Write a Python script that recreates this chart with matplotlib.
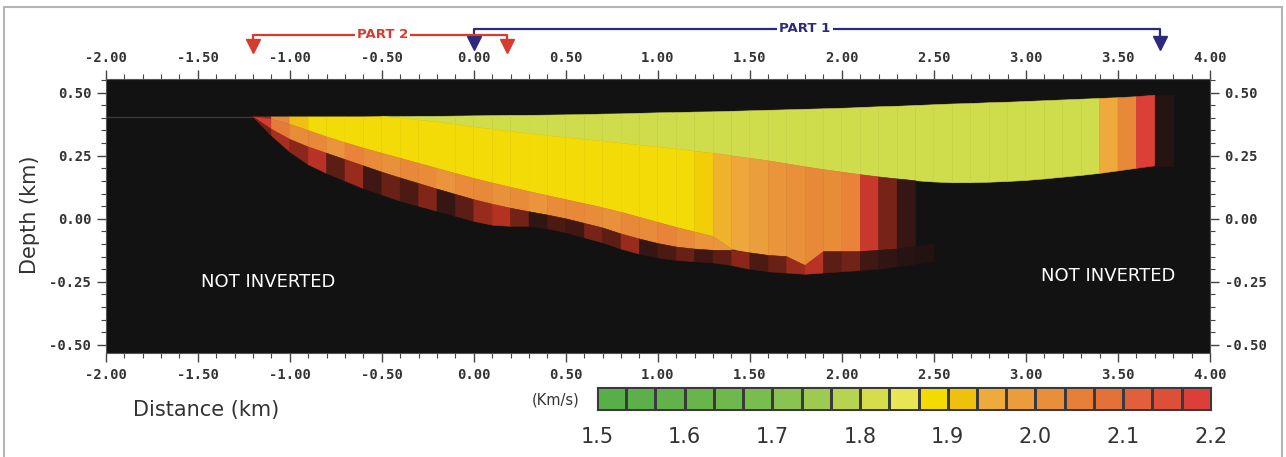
import numpy as np
import matplotlib
matplotlib.use("Agg")
import matplotlib.pyplot as plt
from matplotlib.collections import PolyCollection
from matplotlib.colors import LinearSegmentedColormap, ListedColormap, Normalize
from matplotlib.ticker import MultipleLocator
from matplotlib.patches import Rectangle

plt.rcParams['axes.unicode_minus'] = False

# ---- data read off the section ----
# column edges along the profile (km)
x_edges = [-1.2, -1.1, -1.0, -0.9, -0.8, -0.7, -0.6, -0.5, -0.4, -0.3, -0.2, -0.1,
           0.0, 0.1, 0.2, 0.3, 0.4, 0.5, 0.6, 0.7, 0.8, 0.9, 1.0, 1.1, 1.2, 1.3,
           1.4, 1.5, 1.6, 1.7, 1.8, 1.9, 2.0, 2.1, 2.2, 2.3, 2.4, 2.5, 2.6, 2.7,
           2.8, 2.9, 3.0, 3.1, 3.2, 3.3, 3.4, 3.5, 3.6, 3.7, 3.8]

# ground surface (km)
top = [0.404, 0.404, 0.404, 0.404, 0.404, 0.404, 0.404, 0.405, 0.405, 0.406, 0.406, 0.407,
       0.408, 0.409, 0.410, 0.410, 0.411, 0.412, 0.413, 0.415, 0.416, 0.418, 0.420, 0.421,
       0.423, 0.424, 0.426, 0.428, 0.430, 0.432, 0.434, 0.436, 0.438, 0.441, 0.444, 0.446,
       0.449, 0.452, 0.455, 0.457, 0.460, 0.462, 0.465, 0.468, 0.471, 0.474, 0.477, 0.480,
       0.484, 0.490, 0.490]

# base of the upper (green) layer
b1 = [0.404, 0.404, 0.404, 0.404, 0.404, 0.404, 0.404, 0.405, 0.400, 0.392, 0.384, 0.374,
      0.364, 0.355, 0.346, 0.338, 0.330, 0.322, 0.315, 0.308, 0.300, 0.292, 0.285, 0.277,
      0.268, 0.260, 0.250, 0.240, 0.230, 0.218, 0.206, 0.195, 0.185, 0.175, 0.166, 0.158,
      0.151, 0.146, 0.143, 0.143, 0.145, 0.148, 0.152, 0.158, 0.165, 0.172, 0.180, 0.190,
      0.200, 0.210, 0.210]

# base of the middle (yellow / orange) layer
b2 = [0.404, 0.395, 0.375, 0.350, 0.325, 0.302, 0.280, 0.260, 0.240, 0.220, 0.200, 0.180,
      0.160, 0.142, 0.125, 0.108, 0.092, 0.076, 0.060, 0.044, 0.026, 0.006, -0.014, -0.034,
      -0.052, -0.070, -0.120, -0.135, -0.145, -0.150, -0.185, -0.130, -0.130, -0.130, -0.125, -0.120,
      -0.110, -0.100, 0.143, 0.143, 0.145, 0.148, 0.152, 0.158, 0.165, 0.172, 0.180, 0.190,
      0.200, 0.210, 0.210]

# base of the orange band
b3 = [0.404, 0.355, 0.315, 0.285, 0.260, 0.235, 0.210, 0.185, 0.162, 0.140, 0.118, 0.097,
      0.076, 0.058, 0.042, 0.028, 0.015, 0.000, -0.018, -0.036, -0.060, -0.080, -0.098, -0.112,
      -0.120, -0.125, -0.125, -0.135, -0.145, -0.150, -0.185, -0.130, -0.130, -0.130, -0.125, -0.120,
      -0.110, -0.100, 0.143, 0.143, 0.145, 0.148, 0.152, 0.158, 0.165, 0.172, 0.180, 0.190,
      0.200, 0.210, 0.210]

# base of the dark (poorly resolved) band
b4 = [0.404, 0.330, 0.265, 0.215, 0.180, 0.150, 0.120, 0.095, 0.070, 0.050, 0.030, 0.010,
      -0.010, -0.025, -0.030, -0.030, -0.040, -0.055, -0.075, -0.095, -0.120, -0.140, -0.155, -0.165,
      -0.170, -0.175, -0.185, -0.200, -0.210, -0.215, -0.220, -0.215, -0.210, -0.205, -0.200, -0.190,
      -0.180, -0.170, 0.143, 0.143, 0.145, 0.148, 0.152, 0.158, 0.165, 0.172, 0.180, 0.190,
      0.200, 0.210, 0.210]

nan = np.nan
# velocities (km/s) for each column, per layer
v_green = [nan, nan, nan, nan, nan, nan, nan, 1.81, 1.81, 1.81, 1.81, 1.81,
           1.81, 1.81, 1.81, 1.81, 1.81, 1.81, 1.81, 1.81, 1.81, 1.81, 1.81, 1.81,
           1.81, 1.81, 1.81, 1.81, 1.81, 1.81, 1.81, 1.81, 1.81, 1.81, 1.81, 1.81,
           1.81, 1.81, 1.81, 1.81, 1.81, 1.81, 1.81, 1.81, 1.81, 1.81, 1.95, 2.03,
           2.18, 2.47]
v_mid = [2.30, 2.03, 1.92, 1.88, 1.88, 1.88, 1.88, 1.88, 1.88, 1.88, 1.88, 1.88,
         1.88, 1.88, 1.88, 1.88, 1.88, 1.88, 1.88, 1.88, 1.88, 1.88, 1.88, 1.88,
         1.90, 1.94, 1.96, 1.98, 2.00, 2.01, 2.03, 2.02, 2.04, 2.22, 2.34, 2.44,
         nan, nan, nan, nan, nan, nan, nan, nan, nan, nan, nan, nan,
         nan, nan]
v_orange = [2.20, 2.06, 2.02, 2.03, 2.00, 2.04, 2.02, 2.01, 2.03, 2.02, 2.00, 2.02,
            2.03, 2.01, 2.02, 2.00, 2.02, 2.03, 2.02, 2.01, 2.03, 2.02, 2.04, 2.02,
            2.00, 2.00, nan, nan, nan, nan, nan, nan, nan, nan, nan, nan,
            nan, nan, nan, nan, nan, nan, nan, nan, nan, nan, nan, nan,
            nan, nan]
v_dark = [2.35, 2.28, 2.32, 2.25, 2.38, 2.30, 2.42, 2.36, 2.40, 2.33, 2.44, 2.38,
          2.30, 2.26, 2.35, 2.45, 2.40, 2.42, 2.34, 2.38, 2.30, 2.44, 2.40, 2.36,
          2.42, 2.38, 2.32, 2.40, 2.36, 2.30, 2.25, 2.38, 2.35, 2.42, 2.45, 2.47,
          2.48, nan, nan, nan, nan, nan, nan, nan, nan, nan, nan, nan,
          nan, nan]

# colour scale boxes (1.5 - 2.2 km/s)
cb_colors = ['#58ae48', '#5cb049', '#61b24a', '#67b54b', '#6fb84d', '#7abd4f', '#8ac351',
             '#9fca52', '#b8d34f', '#d5de4a', '#e8e655', '#f3da00', '#efc10d', '#eeab3c',
             '#eb9c3c', '#e98e3a', '#e77f38', '#e4703a', '#e1603b', '#de4e39', '#db3f37']
cb_ticks = [1.5, 1.6, 1.7, 1.8, 1.9, 2.0, 2.1, 2.2]

x_ticks = [-2, -1.5, -1, -0.5, 0, 0.5, 1, 1.5, 2, 2.5, 3, 3.5, 4]
y_ticks = [-0.5, -0.25, 0, 0.25, 0.5]

# ---- colour map: legend colours, then fading to black above 2.2 ----
vmin, vmax = 1.5, 2.5
nodes = [(0.0, cb_colors[0])]
for i, c in enumerate(cb_colors):
    nodes.append(((1.5 + (i + 0.5) * 0.7 / len(cb_colors) - vmin) / (vmax - vmin), c))
nodes += [(0.77, '#b03020'), (0.84, '#7a2418'), (0.91, '#461812'), (1.0, '#181212')]
cmap = LinearSegmentedColormap.from_list('vel', nodes)
norm = Normalize(vmin, vmax)

fig = plt.figure(figsize=(12.86, 4.57), dpi=100)
fig.patch.set_facecolor('white')
fig.patches.append(Rectangle((4 / 1286, -0.1), 1278 / 1286, 1.1 - 7 / 457, transform=fig.transFigure,
                             fill=False, edgecolor='#b4b4b4', linewidth=1.5))

ax = fig.add_axes([0.0822, 0.2276, 0.8587, 0.5989])
ax.set_facecolor('#121212')
ax.set_xlim(-2, 4)
ax.set_ylim(-0.532, 0.553)

# faint ground line in the uninverted part
ax.plot([-2, x_edges[0]], [top[0], top[0]], color='#3a3a3a', lw=1)

verts, vals = [], []
for upper, lower, vel in [(top, b1, v_green), (b1, b2, v_mid), (b2, b3, v_orange), (b3, b4, v_dark)]:
    for i in range(len(x_edges) - 1):
        if np.isnan(vel[i]):
            continue
        verts.append([(x_edges[i], upper[i]), (x_edges[i + 1], upper[i + 1]),
                      (x_edges[i + 1], lower[i + 1]), (x_edges[i], lower[i])])
        vals.append(vel[i])
pc = PolyCollection(verts, array=np.array(vals), cmap=cmap, norm=norm,
                    edgecolors='face', linewidths=0.4)
ax.add_collection(pc)

tick_font = dict(family='DejaVu Sans Mono', weight='bold', size=10)
ax.xaxis.set_minor_locator(MultipleLocator(0.1))
ax.yaxis.set_minor_locator(MultipleLocator(0.05))
ax.set_xticks(x_ticks)
ax.set_xticklabels(['%.2f' % t for t in x_ticks], **tick_font)
ax.set_yticks(y_ticks)
ax.set_yticklabels(['%.2f' % t for t in y_ticks], **tick_font)
ax.tick_params(which='both', direction='out', top=True, right=True, labeltop=True,
               labelright=True, colors='#444444', labelcolor='#333333')
ax.tick_params(which='major', length=6.5, width=1, pad=4)
ax.tick_params(which='minor', length=3.5, width=0.8)
for lab in ax.get_xticklabels() + ax.get_yticklabels():
    lab.set_fontproperties(tick_font)
for s in ax.spines.values():
    s.set_color('#555555')
    s.set_linewidth(0.8)

ax.text(-1.117, -0.251, 'NOT INVERTED', color='white', fontsize=13, ha='center', va='center')
ax.text(3.446, -0.227, 'NOT INVERTED', color='white', fontsize=13, ha='center', va='center')

fig.text(0.0233, 0.53, 'Depth (km)', rotation=90, fontsize=15, color='#333333',
         ha='center', va='center')
fig.text(0.1034, 0.103, 'Distance (km)', fontsize=15, color='#333333', ha='left', va='center')

# profile parts above the section
tr = ax.get_xaxis_transform()
navy, red = '#2d2a7e', '#d83a2e'
ax.plot([0, 0, 3.73, 3.73], [1.133, 1.184, 1.184, 1.133], color=navy, lw=1.6,
        transform=tr, clip_on=False)
ax.plot([0, 3.73], [1.133, 1.133], ls='none', marker='v', ms=10, color=navy,
        transform=tr, clip_on=False)
ax.text(1.80, 1.184, 'PART 1', color=navy, fontsize=9.5, weight='bold', ha='center',
        va='center', transform=tr, bbox=dict(fc='white', ec='none', pad=1.5))
ax.plot([-1.2, -1.2, 0.18, 0.18], [1.122, 1.162, 1.162, 1.122], color=red, lw=1.6,
        transform=tr, clip_on=False)
ax.plot([-1.2, 0.18], [1.122, 1.122], ls='none', marker='v', ms=10, color=red,
        transform=tr, clip_on=False)
ax.text(-0.495, 1.162, 'PART 2', color=red, fontsize=9.5, weight='bold', ha='center',
        va='center', transform=tr, bbox=dict(fc='white', ec='none', pad=1.5))

# colour scale
cax = fig.add_axes([0.4642, 0.1028, 0.4774, 0.0503])
cb_edges = np.linspace(1.5, 2.2, len(cb_colors) + 1)
cax.pcolormesh(cb_edges, [0, 1], np.arange(len(cb_colors))[None, :],
               cmap=ListedColormap(cb_colors), edgecolors='#3a3a3a', linewidth=0.8)
cax.set_xlim(1.5, 2.2)
cax.set_ylim(0, 1)
cax.set_yticks([])
cax.set_xticks(cb_ticks)
cax.set_xticklabels(['%.1f' % t for t in cb_ticks], fontsize=15, color='#333333')
cax.tick_params(axis='x', length=0, pad=12)
for s in cax.spines.values():
    s.set_color('#3a3a3a')
    s.set_linewidth(0.8)
fig.text(0.451, 0.125, '(Km/s)', fontsize=10.5, color='#333333', ha='right', va='center')

fig.savefig('out.png', dpi=100)
